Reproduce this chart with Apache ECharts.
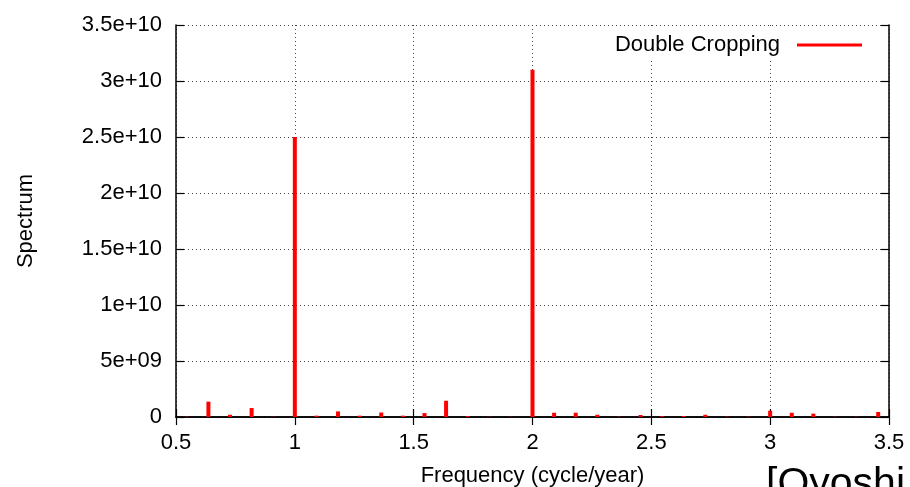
<!DOCTYPE html>
<html>
<head>
<meta charset="utf-8">
<script src="https://cdn.jsdelivr.net/npm/echarts@6/dist/echarts.min.js"></script>
<style>
  html, body { margin: 0; padding: 0; background: #fff; }
  #chart { width: 910px; height: 487px; }
</style>
</head>
<body>
<div id="chart"></div>
<script>
// harmonics of 1/11 cycle/year
const freqIndex = [6, 7, 8, 9, 10, 11, 12, 13, 14, 15, 16, 17, 18, 19, 20, 21, 22,
  23, 24, 25, 26, 27, 28, 29, 30, 31, 32, 33, 34, 35, 36, 37, 38]
const spectrum = [3e7, 1.37e9, 2e8, 8e8, 2e7, 2.5e10, 1.2e8, 5e8, 1.2e8, 4e8, 1.2e8, 3.5e8, 1.45e9, 8e7, 2e7, 2e7, 3.1e10,
  3.8e8, 3.8e8, 2e8, 3e7, 1.8e8, 7e7, 9e7, 2e8, 3e7, 3e7, 5.6e8, 3.8e8, 3e8, 2e7, 2e7, 4.5e8]
const xTicks = { min: 0.5, max: 3.5, step: 0.5 }
const yTicks = { min: 0, max: 3.5e10, step: 5e9 }
const seriesName = 'Double Cropping'

const font = 'Liberation Sans'

function gnuFmt(v) {
  if (v === 0) return '0'
  const e = Math.floor(Math.log10(v) + 1e-9)
  const m = +(v / Math.pow(10, e)).toFixed(3)
  return m + 'e+' + String(e).padStart(2, '0')
}

const chart = echarts.init(document.getElementById('chart'))

const frame = { show: true, lineStyle: { color: '#000', width: 1.5 } }
const tick = { show: true, inside: true, length: 8, lineStyle: { color: '#000', width: 1.2 } }
const grid = { show: true, lineStyle: { color: '#444', width: 1, type: [1, 3] } }

chart.setOption({
  animation: false,
  grid: { left: 176, right: 21, top: 25, bottom: 70, outerBoundsMode: 'none', containLabel: false },
  legend: {
    data: [seriesName],
    right: 43,
    top: 29,
    align: 'right',
    icon: 'rect',
    itemWidth: 65,
    itemHeight: 3,
    backgroundColor: '#fff',
    textStyle: { fontFamily: font, fontSize: 22, color: '#000', padding: [0, 12, 0, 0] }
  },
  xAxis: [{
    type: 'value',
    min: xTicks.min, max: xTicks.max, interval: xTicks.step,
    name: 'Frequency (cycle/year)',
    nameLocation: 'middle',
    nameGap: 48,
    nameTextStyle: { fontFamily: font, fontSize: 22, color: '#000' },
    axisLine: frame,
    axisTick: tick,
    splitLine: grid,
    axisLabel: { fontFamily: font, fontSize: 22, color: '#000', margin: 15 }
  }, {
    type: 'value', position: 'top',
    min: xTicks.min, max: xTicks.max, interval: xTicks.step,
    axisLine: frame, axisTick: tick, splitLine: { show: false }, axisLabel: { show: false }
  }],
  yAxis: [{
    type: 'value',
    min: yTicks.min, max: yTicks.max, interval: yTicks.step,
    name: 'Spectrum',
    nameLocation: 'middle',
    nameGap: 139,
    nameTextStyle: { fontFamily: font, fontSize: 22, color: '#000' },
    axisLine: frame,
    axisTick: tick,
    splitLine: grid,
    axisLabel: { fontFamily: font, fontSize: 22, color: '#000', margin: 14, formatter: gnuFmt }
  }, {
    type: 'value', position: 'right',
    min: yTicks.min, max: yTicks.max, interval: yTicks.step,
    axisLine: frame, axisTick: tick, splitLine: { show: false }, axisLabel: { show: false }
  }],
  series: [{
    name: seriesName,
    type: 'bar',
    xAxisIndex: 0,
    yAxisIndex: 0,
    barWidth: 4,
    itemStyle: { color: '#ff0000' },
    data: freqIndex.map((k, i) => [k / 11, spectrum[i]])
  }],
  graphic: [{
    type: 'text',
    left: 766,
    top: 464,
    style: { text: '[Oyoshi', font: '41px "Liberation Sans"', fill: '#000' }
  }]
})
</script>
</body>
</html>
